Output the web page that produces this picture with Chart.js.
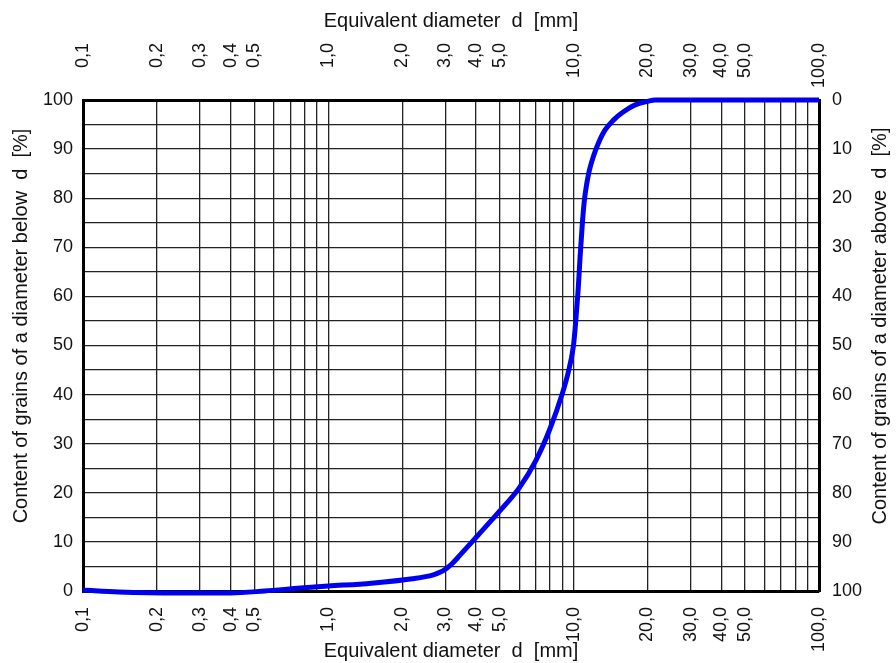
<!DOCTYPE html>
<html>
<head>
<meta charset="utf-8">
<script src="https://cdn.jsdelivr.net/npm/chart.js@4.4.1/dist/chart.umd.min.js"></script>
<style>
  html, body { margin: 0; padding: 0; background: #fff; }
  canvas { display: block; }
</style>
</head>
<body>
<canvas id="grading" width="896" height="663"></canvas>
<script>
  // sieve curve
  const diameters = [0.1, 0.14, 0.25, 0.4, 0.55, 0.77, 1.0, 1.5, 2.2, 2.68, 2.85, 3.03, 3.2, 3.44, 4.03, 5.0, 6.0, 7.0, 8.0, 9.0, 9.5, 9.97, 10.13, 10.29, 10.45, 10.62, 10.85, 11.06, 11.31, 11.59, 12.03, 12.61, 13.43, 14.52, 15.96, 17.8, 19.9, 21.5, 100];
  const passing = [0.2, -0.2, -0.4, -0.4, 0, 0.6, 1.0, 1.6, 2.5, 3.3, 3.8, 4.6, 5.6, 7.3, 11.1, 16.3, 21.0, 26.5, 33.0, 40.3, 44.5, 49.8, 53.2, 57.5, 62.0, 68.0, 74.9, 79.6, 83.0, 85.7, 88.5, 91.2, 93.9, 95.9, 97.6, 99.0, 99.7, 100, 100];

  const gridTicks = [0.1, 0.2, 0.3, 0.4, 0.5, 0.6, 0.7, 0.8, 0.9, 1, 2, 3, 4, 5, 6, 7, 8, 9, 10, 20, 30, 40, 50, 60, 70, 80, 90, 100];
  const labelTicks = [0.1, 0.2, 0.3, 0.4, 0.5, 1, 2, 3, 4, 5, 10, 20, 30, 40, 50, 100];

  const xTitle = "Equivalent diameter  d  [mm]";
  const leftTitle = "Content of grains of a diameter below  d  [%]";
  const rightTitle = "Content of grains of a diameter above  d  [%]";

  const FONT = '"Liberation Sans", Arial, sans-serif';
  const INK = "#111";

  function fmt(v) {
    return v.toFixed(1).replace(".", ",");
  }

  // top tick labels + both side titles (ends aligned like the original)
  const overlayText = {
    id: "overlayText",
    afterDraw(chart) {
      const { ctx, scales } = chart;
      const x = scales.x;
      ctx.save();
      ctx.fillStyle = INK;
      ctx.font = "18px " + FONT;
      ctx.textAlign = "right";
      ctx.textBaseline = "middle";
      labelTicks.forEach((v) => {
        ctx.save();
        ctx.translate(x.getPixelForValue(v), 43);
        ctx.rotate(-Math.PI / 2);
        ctx.fillText(fmt(v), 0, 0);
        ctx.restore();
      });
      ctx.font = "20px " + FONT;
      ctx.textAlign = "center";
      [[21, leftTitle], [880, rightTitle]].forEach(([tx, t]) => {
        ctx.save();
        ctx.translate(tx, 326);
        ctx.rotate(-Math.PI / 2);
        ctx.fillText(t, 0, 0);
        ctx.restore();
      });
      ctx.restore();
    },
  };

  const border = { display: true, color: "#000", width: 3 };

  new Chart(document.getElementById("grading"), {
    type: "line",
    data: {
      datasets: [
        {
          data: diameters.map((d, i) => ({ x: d, y: passing[i] })),
          borderColor: "#0000f0",
          borderWidth: 5,
          pointRadius: 0,
          cubicInterpolationMode: "monotone",
          clip: false,
        },
      ],
    },
    options: {
      responsive: false,
      animation: false,
      devicePixelRatio: 1,
      layout: { padding: 0 },
      plugins: { legend: { display: false }, tooltip: { enabled: false } },
      scales: {
        x: {
          type: "logarithmic",
          position: "bottom",
          min: 0.1,
          max: 100,
          afterBuildTicks: (s) => {
            s.ticks = gridTicks.map((v) => ({ value: v }));
          },
          afterFit: (s) => {
            s.height = 72;
          },
          border: border,
          grid: { color: "#222", lineWidth: 1.3, drawTicks: false },
          ticks: {
            autoSkip: false,
            minRotation: 90,
            maxRotation: 90,
            padding: 16,
            color: INK,
            font: { family: FONT, size: 18 },
            callback: (v) => (labelTicks.includes(v) ? fmt(v) : ""),
          },
          title: {
            display: true,
            text: xTitle,
            color: INK,
            font: { family: FONT, size: 20 },
            padding: { top: 0, bottom: 0 },
          },
        },
        x2: {
          type: "logarithmic",
          position: "top",
          min: 0.1,
          max: 100,
          afterFit: (s) => {
            s.height = 100;
          },
          border: border,
          grid: { display: false },
          ticks: { display: false },
          title: {
            display: true,
            text: xTitle,
            color: INK,
            font: { family: FONT, size: 20 },
            padding: { top: 9, bottom: 0 },
          },
        },
        y: {
          position: "left",
          min: 0,
          max: 100,
          afterFit: (s) => {
            s.width = 83;
          },
          border: border,
          grid: { color: "#222", lineWidth: 1.3, drawTicks: false },
          ticks: {
            stepSize: 5,
            autoSkip: false,
            padding: 10,
            color: INK,
            font: { family: FONT, size: 18 },
            callback: (v) => (v % 10 === 0 ? v : ""),
          },
        },
        y2: {
          position: "right",
          min: 0,
          max: 100,
          reverse: true,
          afterFit: (s) => {
            s.width = 77;
          },
          border: border,
          grid: { display: false, drawTicks: false },
          ticks: {
            stepSize: 10,
            autoSkip: false,
            padding: 13,
            color: INK,
            font: { family: FONT, size: 18 },
          },
        },
      },
    },
    plugins: [overlayText],
  });
</script>
</body>
</html>
